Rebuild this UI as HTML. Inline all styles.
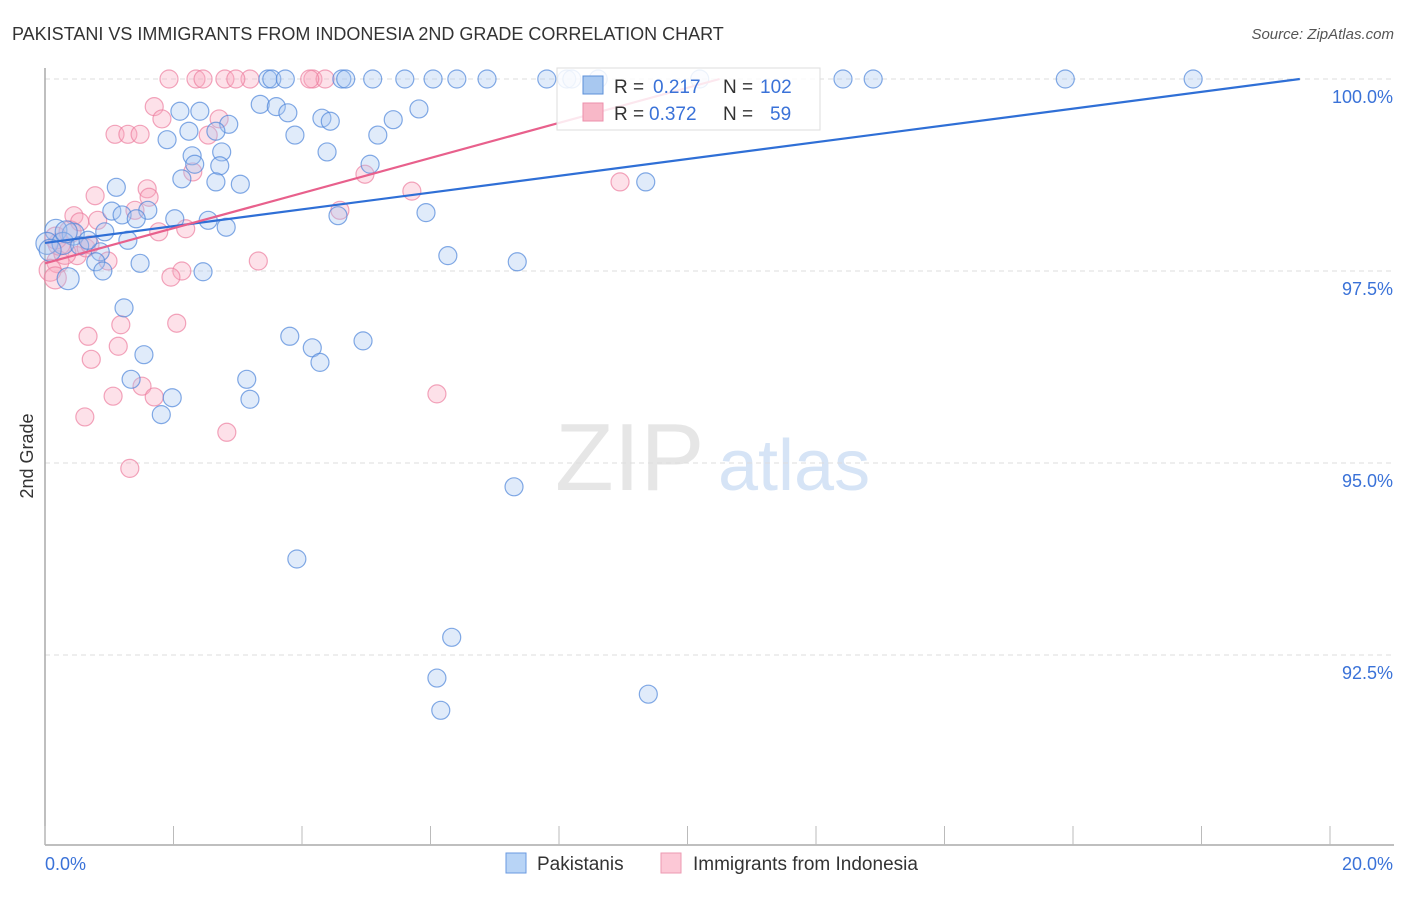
<!DOCTYPE html>
<html><head><meta charset="utf-8"><style>
body{margin:0;background:#fff;font-family:"Liberation Sans",sans-serif}
svg text{font-family:"Liberation Sans",sans-serif}
</style></head><body>
<svg id="chart" width="1406" height="892" xmlns="http://www.w3.org/2000/svg">
<text x="12" y="40" font-size="18" fill="#333">PAKISTANI VS IMMIGRANTS FROM INDONESIA 2ND GRADE CORRELATION CHART</text>
<text x="1394" y="39" font-size="15" fill="#555" text-anchor="end" font-style="italic">Source: ZipAtlas.com</text>
<text x="555" y="490" font-size="96" fill="#e6e6e6" font-family="Liberation Serif,serif">ZIP</text>
<text x="718" y="490" font-size="72" fill="#d6e4f6">atlas</text>
<text transform="translate(33,456) rotate(-90)" font-size="18" fill="#333" text-anchor="middle">2nd Grade</text>
<g id="grid"></g><g id="axes"></g><g id="pts"></g><g id="lines"></g>
<g>
<rect x="557" y="68" width="263" height="62" fill="#fff" fill-opacity="0.85" stroke="#ddd"/>
<rect x="583" y="76" width="20" height="18" fill="#a8c8f0" stroke="#5b8fd8"/>
<rect x="583" y="103" width="20" height="18" fill="#f8b8c8" stroke="#ec8fab"/>
<text x="614" y="93" font-size="19" fill="#333">R = </text><text x="653" y="93" font-size="19" fill="#3a72d8">0.217</text>
<text x="723" y="93" font-size="19" fill="#333">N = </text><text x="760" y="93" font-size="19" fill="#3a72d8">102</text>
<text x="614" y="120" font-size="19" fill="#333">R = </text><text x="649" y="120" font-size="19" fill="#3a72d8">0.372</text>
<text x="723" y="120" font-size="19" fill="#333">N = </text><text x="770" y="120" font-size="19" fill="#3a72d8">59</text>
</g>
<g>
<rect x="506" y="853" width="20" height="20" fill="#b8d4f6" stroke="#6a9ae0"/>
<text x="537" y="870" font-size="19" fill="#333">Pakistanis</text>
<rect x="661" y="853" width="20" height="20" fill="#fcc8d6" stroke="#ec9ab2"/>
<text x="693" y="870" font-size="19" fill="#333">Immigrants from Indonesia</text>
</g>
</svg>
<script>
const yTicks=[100,97.5,95,92.5];
const yTickLabels=["100.0%","97.5%","95.0%","92.5%"];
const xTickLabels=["0.0%","20.0%"];
const blueX=[3.47,3.53,3.74,4.62,4.68,5.10,5.60,6.04,6.41,6.88,7.81,8.12,8.20,8.61,12.42,12.89,15.88,17.87,10.19,
2.10,2.41,3.35,3.60,3.78,4.31,4.44,5.82,5.42,2.86,2.24,2.66,1.90,3.89,5.18,4.39,2.29,2.75,2.33,2.72,5.06,2.13,2.66,3.04,9.35,1.11,1.60,1.04,1.20,1.42,2.02,2.54,2.82,4.56,5.93,0.17,0.44,0.93,1.29,0.03,0.28,0.86,6.27,7.35,1.48,0.79,2.46,0.90,0.36,1.23,3.81,4.16,4.28,4.95,1.54,1.34,3.14,1.98,3.19,1.81,7.30,3.92,6.33,6.10,9.39,6.16,0.54,0.33,0.08,0.67];
const blueY=[100,100,100,100,100,100,100,100,100,100,100,100,100,100,100,100,100,100,100,
99.58,99.58,99.67,99.64,99.56,99.49,99.45,99.61,99.47,99.41,99.32,99.32,99.21,99.27,99.27,99.05,99.00,99.05,98.89,98.87,98.89,98.70,98.66,98.63,98.66,98.59,98.29,98.28,98.23,98.18,98.18,98.16,98.07,98.22,98.26,98.03,97.98,98.01,97.90,97.86,97.86,97.75,97.70,97.62,97.60,97.62,97.49,97.50,97.40,97.02,96.65,96.50,96.31,96.59,96.41,96.09,96.09,95.85,95.83,95.63,94.69,93.75,92.73,92.20,91.99,91.78,97.83,98.01,97.77,97.90];
const pinkX=[1.93,2.35,2.46,2.80,3.19,4.17,4.36,2.97,4.12,1.09,1.29,1.48,1.70,1.82,2.54,2.71,2.30,4.98,5.71,8.95,0.78,1.59,1.62,1.40,0.45,0.82,1.77,2.19,3.32,2.13,1.96,0.98,0.20,0.08,0.16,0.50,0.31,0.22,0.64,0.67,1.18,2.05,1.14,0.72,1.51,1.06,1.70,6.10,0.62,2.83,1.32,4.59,0.17,0.39,0.54,0.70];
const pinkY=[100,100,100,100,100,100,100,100,100,99.28,99.28,99.28,99.64,99.48,99.27,99.48,98.79,98.76,98.54,98.66,98.48,98.57,98.46,98.29,98.22,98.16,98.01,98.05,97.63,97.50,97.42,97.63,97.62,97.51,97.41,97.70,97.73,97.85,97.80,96.65,96.80,96.82,96.52,96.35,96.00,95.87,95.86,95.90,95.60,95.40,94.93,98.29,97.93,98.01,98.14,97.84];
const blueLine=[0,97.865,19.53,100];
const pinkLine=[0,97.6,10.5,100];
const X=v=>45+v*64.25, Y=v=>79+(100-v)*76.8;
const NS="http://www.w3.org/2000/svg";
function mk(p,t,a){const e=document.createElementNS(NS,t);for(const k in a)e.setAttribute(k,a[k]);p.appendChild(e);return e;}
const grid=document.getElementById('grid'),axes=document.getElementById('axes'),pts=document.getElementById('pts'),lines=document.getElementById('lines');
yTicks.forEach((t,i)=>{
 const l=mk(grid,'line',{x1:45,x2:1394,y1:Y(t),y2:Y(t),stroke:'#ddd','stroke-dasharray':'5,4'});
 
 
 const tx=mk(grid,'text',{x:1393,y:Y(t)+24,'font-size':18,fill:'#3a72d8','text-anchor':'end'});
 tx.textContent=yTickLabels[i];
 
 
});
const ax=mk(axes,'line',{x1:45,x2:1394,y1:845,y2:845,stroke:'#aaa','stroke-width':1.5});


const ay=mk(axes,'line',{x1:45,x2:45,y1:68,y2:845,stroke:'#aaa','stroke-width':1.5});


for(let i=0;i<=10;i++){const t=mk(axes,'line',{x1:X(i*2),x2:X(i*2),y1:826,y2:845,stroke:'#bbb'});
 
 }
[[0,'start'],[20,'end']].forEach((d,i)=>{const t=mk(axes,'text',{x:i?1393:45,y:870,'font-size':18,fill:'#3a72d8','text-anchor':d[1]});t.textContent=xTickLabels[i];
 
 });
function dots(xs,ys,fill,stroke,name){xs.forEach((x,i)=>{const big=x<0.5&&ys[i]>97.3&&ys[i]<98.2;
 const c=mk(pts,'circle',{cx:X(x),cy:Y(ys[i]),r:big?11:9,fill:fill,'fill-opacity':0.35,stroke:stroke,'stroke-opacity':0.7,'stroke-width':1.2});
 
 });}
dots(pinkX,pinkY,'#f8a8bf','#ec7fa0','point-indonesia');
dots(blueX,blueY,'#a6c6f2','#4f86da','point-pakistani');
const bl=mk(lines,'line',{x1:X(blueLine[0]),y1:Y(blueLine[1]),x2:X(blueLine[2]),y2:Y(blueLine[3]),stroke:'#2f6fd6','stroke-width':2.2});


const pl=mk(lines,'line',{x1:X(pinkLine[0]),y1:Y(pinkLine[1]),x2:X(pinkLine[2]),y2:Y(pinkLine[3]),stroke:'#e8608c','stroke-width':2.2});


</script>
</body></html>
